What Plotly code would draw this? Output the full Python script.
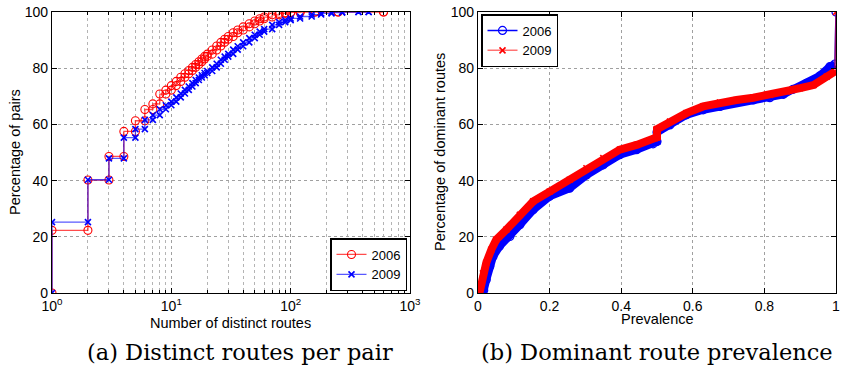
import plotly.graph_objects as go

# ---------------- data: (a) distinct routes per pair ----------------
routes_2006 = [1, 2, 3, 4, 5, 6, 7, 8, 9, 10, 11, 12, 13, 14, 15, 16, 17, 18, 19, 20,
               22, 24, 26, 28, 30, 33, 36, 40, 45, 50, 55, 60, 70, 80, 90, 100, 120, 160, 250, 600]
pairs_2006 = [22.3, 40.2, 48.6, 57.5, 61.3, 65.3, 67.3, 70.8, 72.2, 73.8, 75.3, 76.8, 78.0, 79.2,
              80.3, 81.3, 82.3, 83.3, 84.2, 85.0, 86.5, 87.9, 89.2, 90.3, 91.3, 92.6, 93.6, 94.7,
              95.8, 96.8, 97.6, 98.2, 99.0, 99.5, 99.7, 99.85, 100, 100, 100, 100]

routes_2009 = [1, 2, 3, 4, 5, 6, 7, 8, 9, 10, 11, 12, 13, 14, 15, 16, 17, 18, 19, 20,
               22, 24, 26, 28, 30, 33, 36, 40, 45, 50, 55, 60, 70, 80, 90, 100, 120, 150, 180,
               220, 270, 370, 450]
pairs_2009 = [25.2, 40.3, 47.9, 55.3, 58.3, 61.6, 63.3, 65.4, 66.8, 68.1, 69.6, 71.0, 72.3, 73.5,
              74.7, 75.8, 76.7, 77.5, 78.3, 79.0, 80.3, 81.6, 83.0, 84.1, 85.1, 86.6, 87.8, 89.2,
              90.7, 91.9, 93.0, 93.9, 95.4, 96.4, 97.1, 97.7, 98.4, 99.1, 99.5, 99.8, 100, 100, 100]

# ---------------- data: (b) dominant route prevalence ----------------
prev_2006 = [0.009, 0.016, 0.023, 0.033, 0.042, 0.060, 0.089, 0.117, 0.154, 0.200, 0.256, 0.303,
             0.350, 0.396, 0.443, 0.489, 0.500, 0.500, 0.536, 0.582, 0.629, 0.676, 0.722, 0.769,
             0.815, 0.853, 0.880, 0.918, 0.955, 0.983, 0.997, 1.0]
dom_2006 = [0.0, 1.0, 4.7, 9.5, 13.0, 16.6, 20.1, 24.3, 29.6, 34.4, 37.3, 42.0, 45.6, 49.2, 51.0,
            53.1, 53.9, 57.2, 59.8, 63.4, 65.2, 66.4, 67.8, 68.7, 69.5, 70.7, 72.5, 74.6, 77.3,
            80.6, 81.5, 100.0]

prev_2009 = [0.004, 0.014, 0.023, 0.037, 0.051, 0.079, 0.117, 0.154, 0.200, 0.256, 0.303, 0.350,
             0.396, 0.443, 0.494, 0.500, 0.500, 0.536, 0.582, 0.629, 0.676, 0.722, 0.769, 0.815,
             0.862, 0.900, 0.937, 0.974, 0.997, 1.0]
dom_2009 = [0.0, 7.0, 10.7, 15.4, 19.0, 22.5, 27.8, 32.6, 36.1, 40.3, 44.4, 48.0, 51.0, 52.7, 55.1,
            55.4, 58.3, 61.0, 64.0, 66.4, 67.8, 68.7, 69.5, 70.5, 71.7, 72.9, 74.0, 77.0, 78.8, 100.0]

log_ticks = [1, 10, 100, 1000]
log_tick_text = ["10<sup>0</sup>", "10<sup>1</sup>", "10<sup>2</sup>", "10<sup>3</sup>"]
lin_ticks_b = [0, 0.2, 0.4, 0.6, 0.8, 1]
lin_tick_text_b = ["0", "0.2", "0.4", "0.6", "0.8", "1"]
pct_ticks = [0, 20, 40, 60, 80, 100]

W, H = 841, 365


def px(x):
    return x / W


def py(y):
    return 1 - y / H


def steps(ks, vals):
    xs, ys = [], []
    prev = 0.0
    for k, v in zip(ks, vals):
        xs += [k, k]
        ys += [prev, v]
        prev = v
    return xs, ys


RED = "#ff0000"
BLUE = "#0000ff"
FONT = "Liberation Sans, Arial, sans-serif"

fig = go.Figure()

x6, y6 = steps(routes_2006, pairs_2006)
x9, y9 = steps(routes_2009, pairs_2009)

fig.add_trace(go.Scatter(
    x=x6, y=y6, mode="lines+markers", name="2006", legend="legend",
    line=dict(color="rgba(255,0,0,0.7)", width=1.3),
    marker=dict(symbol="circle-open", size=8, color=RED, line=dict(width=1.1, color=RED)),
    xaxis="x", yaxis="y"))
fig.add_trace(go.Scatter(
    x=x9, y=y9, mode="lines+markers", name="2009", legend="legend",
    line=dict(color="rgba(0,0,255,0.65)", width=1.3),
    marker=dict(symbol="x-thin-open", size=6, color=BLUE, line=dict(width=1.6, color=BLUE)),
    xaxis="x", yaxis="y"))

# (b) thick bands (the dense markers) + legend traces
fig.add_trace(go.Scatter(
    x=prev_2006[:-1], y=dom_2006[:-1], mode="lines", showlegend=False,
    line=dict(color=BLUE, width=8), xaxis="x2", yaxis="y2"))
fig.add_trace(go.Scatter(
    x=prev_2006, y=dom_2006, mode="lines+markers", name="2006", legend="legend2",
    line=dict(color=BLUE, width=1.5),
    marker=dict(symbol="circle-open", size=8, color=BLUE, line=dict(width=1.2, color=BLUE)),
    xaxis="x2", yaxis="y2"))
fig.add_trace(go.Scatter(
    x=prev_2009[:-1], y=dom_2009[:-1], mode="lines", showlegend=False,
    line=dict(color=RED, width=8), xaxis="x2", yaxis="y2"))
fig.add_trace(go.Scatter(
    x=prev_2009, y=dom_2009, mode="lines+markers", name="2009", legend="legend2",
    line=dict(color="rgba(255,0,0,0.55)", width=1.5),
    marker=dict(symbol="x-thin-open", size=6, color=RED, line=dict(width=1.6, color=RED)),
    xaxis="x2", yaxis="y2"))

axis_common = dict(
    showline=True, linecolor="black", linewidth=1.2, mirror="allticks",
    ticks="inside", ticklen=5, tickcolor="black", tickwidth=1,
    showgrid=True, gridcolor="#a0a0a0", griddash="dot", gridwidth=1,
    zeroline=False, tickfont=dict(family=FONT, size=14, color="black"),
    automargin=False, layer="above traces", ticklabeloverflow="allow",
)

xa = [px(52), px(410)]
xb = [px(478), px(836)]
ydom = [py(293), py(12)]

legend_common = dict(bgcolor="white", bordercolor="black", borderwidth=1.5,
                     font=dict(family=FONT, size=13, color="black"),
                     tracegroupgap=0, itemwidth=30)

fig.update_layout(
    template="none",
    width=W, height=H,
    margin=dict(l=0, r=0, t=0, b=0),
    paper_bgcolor="white", plot_bgcolor="white",
    showlegend=True,
    xaxis=dict(axis_common, type="log", range=[0, 3], domain=xa, anchor="y",
               tickvals=log_ticks, ticktext=log_tick_text,
               minor=dict(ticks="inside", ticklen=3, tickcolor="black", dtick="D1",
                          showgrid=True, gridcolor="#b4b4b4", griddash="dot", gridwidth=1)),
    yaxis=dict(axis_common, range=[0, 100], domain=ydom, anchor="x", tickvals=pct_ticks),
    xaxis2=dict(axis_common, range=[0, 1], domain=xb, anchor="y2",
                tickvals=lin_ticks_b, ticktext=lin_tick_text_b),
    yaxis2=dict(axis_common, range=[0, 100], domain=ydom, anchor="x2", tickvals=pct_ticks),
    legend=dict(legend_common, x=px(407), y=py(291), xanchor="right", yanchor="bottom"),
    legend2=dict(legend_common, x=px(481), y=py(14), xanchor="left", yanchor="top"),
)

ann_font = dict(family=FONT, size=14.5, color="black")
cap_font = dict(family="DejaVu Serif, Liberation Serif, serif", size=22.5, color="black")


def label(x, y, text, font, angle=0):
    fig.add_annotation(x=px(x), y=py(y), xref="paper", yref="paper", showarrow=False,
                       xanchor="center", yanchor="middle", text=text, font=font,
                       textangle=angle)


label(230, 323, "Number of distinct routes", ann_font)
label(15, 152, "Percentage of pairs", ann_font, -90)
label(657, 319, "Prevalence", ann_font)
label(440, 152, "Percentage of dominant routes", ann_font, -90)
label(240, 352, "(a) Distinct routes per pair", cap_font)
label(657, 352, "(b) Dominant route prevalence", cap_font)

fig.write_html(
    "out.html",
    config={"displayModeBar": False},
    post_script="document.body.style.margin='0';"
                "document.documentElement.style.overflow='hidden';",
)
